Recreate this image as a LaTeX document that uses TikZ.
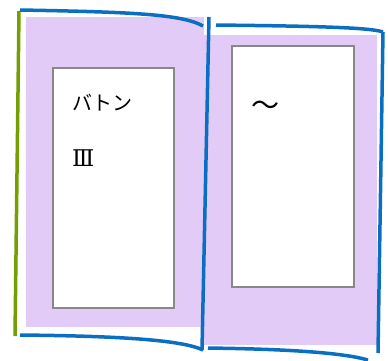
\documentclass[tikz,border=0pt]{standalone}
\usepackage{fontspec}
\newfontfamily\cjk{Noto Sans CJK JP}
\newfontfamily\numfont{DejaVu Serif}
\definecolor{pagefill}{HTML}{E3CBF8}
\definecolor{edgeblue}{HTML}{0A6FC2}
\definecolor{edgegreen}{HTML}{73A000}
\definecolor{framegray}{HTML}{888888}
\tikzset{
  pagebg/.style={fill=pagefill, draw=none},
  panel/.style={draw=framegray, line width=2pt, fill=white, inner sep=0pt},
  edgeline/.style={draw=edgeblue, line width=3.5pt},
  greenline/.style={draw=edgegreen, line width=3.5pt},
  label/.style={anchor=west, inner sep=0pt, font=\cjk\fontsize{20}{24}\selectfont}
}
\begin{document}
\begin{tikzpicture}[x=1pt,y=-1pt]
\useasboundingbox (0,0) rectangle (388,360);
% page fills
\fill[pagebg] (26,17) rectangle (204,327);
\fill[pagebg] (203,35) rectangle (377,345);
% panels
\node[panel, minimum width=121pt, minimum height=240pt, anchor=north west] (lpanel) at (52,67) {};
\node[panel, minimum width=122pt, minimum height=241pt, anchor=north west] (rpanel) at (231,45) {};
% texts
\node[label] (baton) at (72,103) {バトン};
\node[label, font=\numfont\fontsize{23}{26}\selectfont] (three) at (72,158) {Ⅲ};
\node[label, font=\cjk\fontsize{28}{32}\selectfont] (wave) at (251,108) {～};
% edges
\coordinate (tl0) at (20,10);
\coordinate (tl1) at (203,26);
\coordinate (bl0) at (20,335);
\coordinate (bl1) at (203,350);
\coordinate (tr0) at (216,25);
\coordinate (tr1) at (383,32);
\coordinate (re1) at (378,353);
\coordinate (br0) at (208,348);
\coordinate (br1) at (368,360);
\coordinate (sp0) at (209,17);
\coordinate (sp1) at (202,350);
\coordinate (g0) at (19,11);
\coordinate (g1) at (15,336);
\draw[greenline] (g0) -- (g1);
\draw[edgeline] (tl0) .. controls (130,12) and (182,14) .. (tl1);
\draw[edgeline] (bl0) .. controls (120,336) and (182,340) .. (bl1);
\draw[edgeline] (tr0) .. controls (300,26) and (370,27) .. (tr1);
\draw[edgeline] (tr1) -- (re1);
\draw[edgeline] (br0) .. controls (280,349) and (340,352) .. (br1);
\draw[edgeline] (sp0) -- (sp1);
\end{tikzpicture}
\end{document}
